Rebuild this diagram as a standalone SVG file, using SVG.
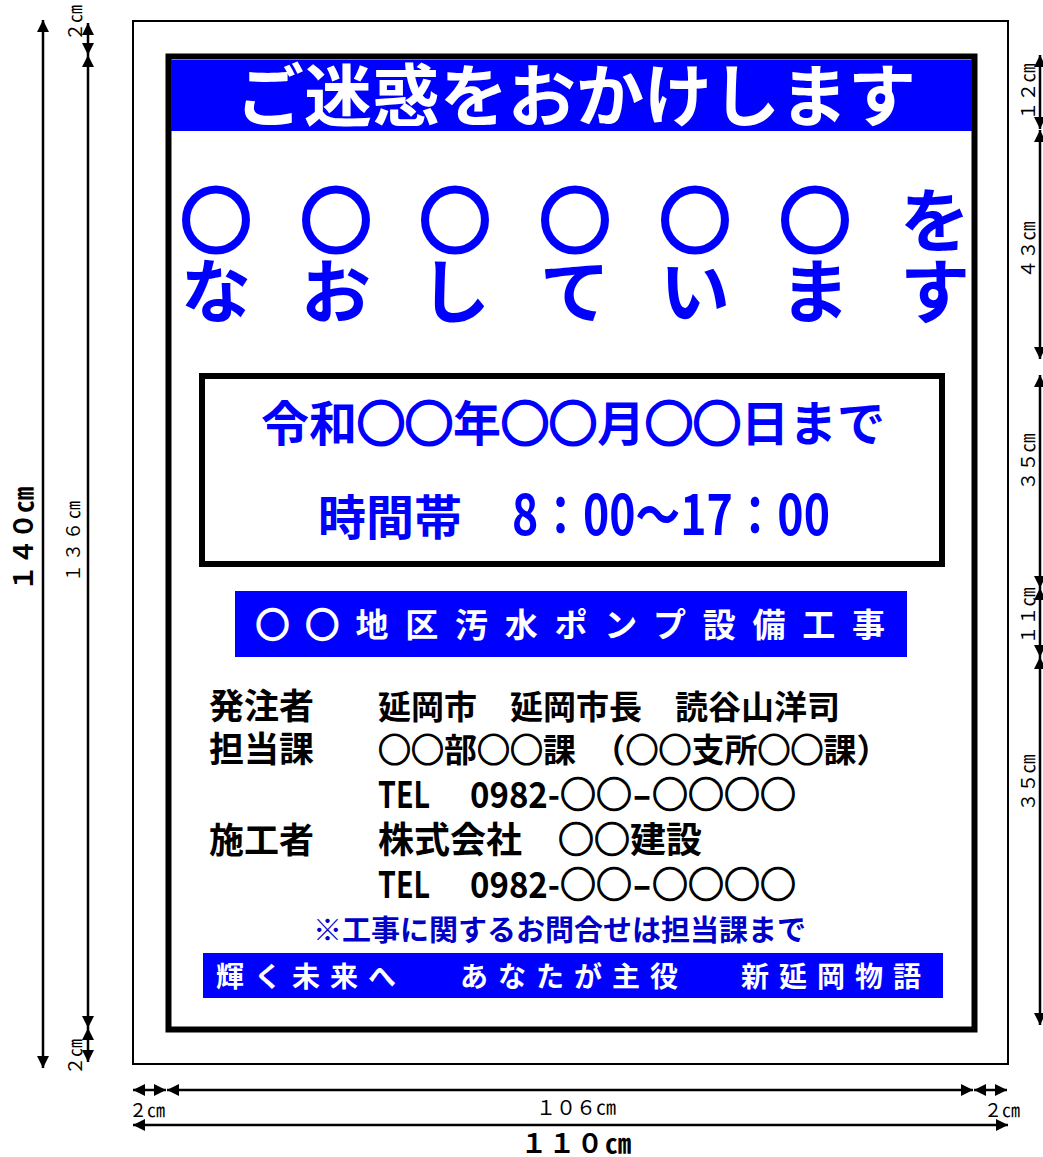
<svg xmlns="http://www.w3.org/2000/svg" width="1043" height="1157" viewBox="0 0 1043 1157">
<style>
.sign{font-family:"Noto Sans CJK JP","Noto Sans CJK SC",sans-serif;font-weight:700}
.blue{fill:#0000FF}
.wt{fill:#FFFFFF}
.bk{fill:#000000}
.dim{stroke:#000;stroke-width:2.5;fill:none;marker-start:url(#ah);marker-end:url(#ah)}
.dl{font-family:"Liberation Sans","Noto Sans CJK JP",sans-serif;fill:#000;text-anchor:middle}
</style>
<defs>
<marker id="ah" viewBox="0 0 12 12" refX="12" refY="6" markerWidth="12" markerHeight="12" markerUnits="userSpaceOnUse" orient="auto-start-reverse">
<path d="M0,0L12,6L0,12z" fill="#000"/>
</marker>
</defs>
<rect width="1043" height="1157" fill="#fff"/>
<g id="outer-panel">
<rect x="133" y="21" width="875" height="1043" fill="#fff" stroke="#000" stroke-width="2"/>
</g>
<g id="board">
<rect x="168.5" y="56.5" width="806" height="973" fill="#fff" stroke="#000" stroke-width="6"/>
</g>
<g id="title">
<rect x="171" y="60" width="801" height="71" class="blue"/>
<text class="sign wt" x="576" y="121" font-size="68" text-anchor="middle">ご迷惑をおかけします</text>
</g>
<g id="main-message">
<text class="sign blue" font-size="70" text-anchor="middle" y="247"><tspan x="216 336 455 575 695 815" stroke="#0000FF" stroke-width="5">○○○○○○</tspan><tspan x="935">を</tspan></text>
<text class="sign blue" font-size="70" text-anchor="middle" x="216 336 455 575 695 815 935" y="318">なおしています</text>
</g>
<g id="period-box">
<rect x="202" y="376" width="740" height="188" fill="#fff" stroke="#000" stroke-width="6"/>
<text class="sign blue" x="573" y="441" font-size="48" text-anchor="middle">令和<tspan stroke="#0000FF" stroke-width="3">○○</tspan>年<tspan stroke="#0000FF" stroke-width="3">○○</tspan>月<tspan stroke="#0000FF" stroke-width="3">○○</tspan>日まで</text>
<text class="sign blue" x="318" y="535" font-size="48">時間帯　<tspan x="512" font-size="55" textLength="318" lengthAdjust="spacingAndGlyphs">8：00～17：00</tspan></text>
</g>
<g id="project-bar">
<rect x="235" y="591" width="672" height="66" class="blue"/>
<text class="sign wt" x="256" y="637" font-size="33" letter-spacing="16.75"><tspan stroke="#FFFFFF" stroke-width="2.5">○○</tspan>地区汚水ポンプ設備工事</text>
</g>
<g id="info">
<text class="sign bk" x="209" y="719" font-size="35">発注者</text>
<text class="sign bk" x="378" y="719" font-size="33">延岡市　延岡市長　読谷山洋司</text>
<text class="sign bk" x="209" y="762" font-size="35">担当課</text>
<text class="sign bk" x="378" y="762" font-size="33"><tspan stroke="#000" stroke-width="1.2">○○</tspan>部<tspan stroke="#000" stroke-width="1.2">○○</tspan>課　（<tspan stroke="#000" stroke-width="1.2">○○</tspan>支所<tspan stroke="#000" stroke-width="1.2">○○</tspan>課）</text>
<text class="sign bk" x="378" y="808" font-size="36"><tspan textLength="52" lengthAdjust="spacingAndGlyphs">TEL</tspan>　<tspan x="470" textLength="90" lengthAdjust="spacingAndGlyphs">0982-</tspan><tspan stroke="#000" stroke-width="1.2">○○</tspan><tspan textLength="20" lengthAdjust="spacingAndGlyphs">-</tspan><tspan stroke="#000" stroke-width="1.2">○○○○</tspan></text>
<text class="sign bk" x="209" y="853" font-size="35">施工者</text>
<text class="sign bk" x="378" y="853" font-size="36">株式会社　<tspan stroke="#000" stroke-width="1.2">○○</tspan>建設</text>
<text class="sign bk" x="378" y="898" font-size="36"><tspan textLength="52" lengthAdjust="spacingAndGlyphs">TEL</tspan>　<tspan x="470" textLength="90" lengthAdjust="spacingAndGlyphs">0982-</tspan><tspan stroke="#000" stroke-width="1.2">○○</tspan><tspan textLength="20" lengthAdjust="spacingAndGlyphs">-</tspan><tspan stroke="#000" stroke-width="1.2">○○○○</tspan></text>
</g>
<g id="note">
<text class="sign" x="313" y="941" font-size="29" fill="#0000C8">※工事に関するお問合せは担当課まで</text>
</g>
<g id="slogan-bar">
<rect x="203" y="953" width="740" height="45" class="blue"/>
<text class="sign wt" y="987" font-size="28" letter-spacing="10"><tspan x="216">輝く未来へ　</tspan><tspan x="460">あなたが主役　</tspan><tspan x="741">新延岡物語</tspan></text>
</g>
<g id="connectors">
<line class="dim" x1="43" y1="20" x2="43" y2="1068"/>
<line class="dim" x1="88" y1="23" x2="88" y2="55"/>
<line class="dim" x1="88" y1="55" x2="88" y2="1028"/>
<line class="dim" x1="88" y1="1028" x2="88" y2="1062"/>
<line class="dim" x1="1040" y1="55" x2="1040" y2="129"/>
<line class="dim" x1="1040" y1="130" x2="1040" y2="359"/>
<line class="dim" x1="1040" y1="375" x2="1040" y2="588"/>
<line class="dim" x1="1040" y1="588" x2="1040" y2="657"/>
<line class="dim" x1="1040" y1="657" x2="1040" y2="1025"/>
<line class="dim" x1="133" y1="1090" x2="166" y2="1090"/>
<line class="dim" x1="167" y1="1090" x2="973" y2="1090"/>
<line class="dim" x1="974" y1="1090" x2="1007" y2="1090"/>
<line class="dim" x1="133" y1="1125" x2="1008" y2="1125"/>
</g>
<g id="dimension-labels">
<text class="dl" transform="translate(33,539) rotate(-90)" font-size="26" font-weight="700">１４０㎝</text>
<text class="dl" transform="translate(82,23) rotate(-90)" font-size="18">２㎝</text>
<text class="dl" transform="translate(80,540) rotate(-90)" font-size="18" letter-spacing="3">１３６㎝</text>
<text class="dl" transform="translate(82,1057) rotate(-90)" font-size="18">２㎝</text>
<text class="dl" transform="translate(1035,92) rotate(-90)" font-size="19">１２㎝</text>
<text class="dl" transform="translate(1035,250) rotate(-90)" font-size="19">４３㎝</text>
<text class="dl" transform="translate(1035,462) rotate(-90)" font-size="19">３５㎝</text>
<text class="dl" transform="translate(1035,616) rotate(-90)" font-size="19">１１㎝</text>
<text class="dl" transform="translate(1035,783) rotate(-90)" font-size="19">３５㎝</text>
<text class="dl" x="147" y="1117" font-size="18">２㎝</text>
<text class="dl" x="1002" y="1117" font-size="18">２㎝</text>
<text class="dl" x="576" y="1115" font-size="20">１０６㎝</text>
<text class="dl" x="577" y="1153" font-size="26" font-weight="700" letter-spacing="2">１１０㎝</text>
</g>
</svg>
